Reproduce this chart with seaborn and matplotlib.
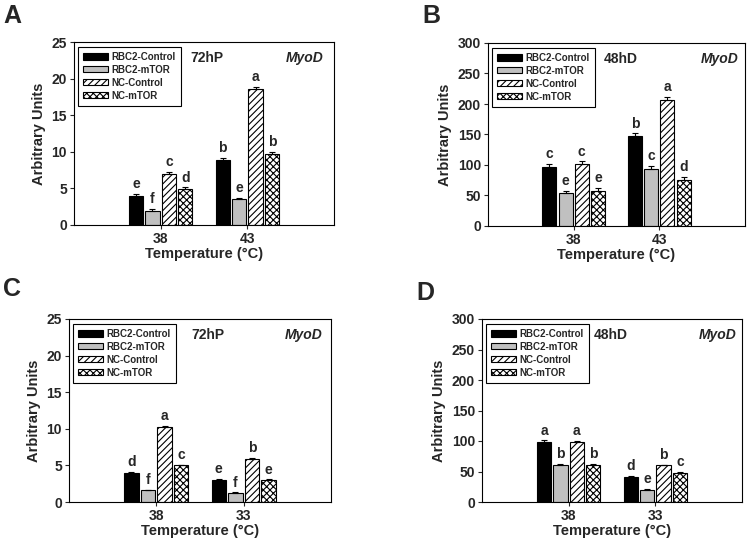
import numpy as np
import pandas as pd
import matplotlib
matplotlib.use("Agg")
import matplotlib.pyplot as plt
from matplotlib.container import BarContainer
import seaborn as sns

sns.set_theme(style="white")
plt.rcParams['font.family'] = ['Liberation Sans', 'DejaVu Sans']
plt.rcParams['hatch.linewidth'] = 0.8

groups = ["RBC2-Control", "RBC2-mTOR", "NC-Control", "NC-mTOR"]
colors = ["#000000", "#c0c0c0", "#ffffff", "#ffffff"]
hatches = ["", "", "/////", "xxxxx"]

# Panel A (72hP, 38 vs 43)
temps_A = ["38", "43"]
vals_A = {"38": [4.0, 1.9, 7.0, 4.9], "43": [8.9, 3.5, 18.6, 9.7]}
errs_A = {"38": [0.2, 0.25, 0.25, 0.25], "43": [0.25, 0.25, 0.3, 0.3]}
lets_A = {"38": ["e", "f", "c", "d"], "43": ["b", "e", "a", "b"]}

# Panel B (48hD, 38 vs 43)
temps_B = ["38", "43"]
vals_B = {"38": [97, 54, 101, 57], "43": [147, 94, 207, 75]}
errs_B = {"38": [5, 4, 5, 5], "43": [5, 4, 5, 5]}
lets_B = {"38": ["c", "e", "c", "e"], "43": ["b", "c", "a", "d"]}

# Panel C (72hP, 38 vs 33)
temps_C = ["38", "33"]
vals_C = {"38": [3.95, 1.6, 10.3, 5.0], "33": [3.0, 1.2, 5.9, 3.0]}
errs_C = {"38": [0.12, 0.1, 0.12, 0.1], "33": [0.12, 0.1, 0.1, 0.1]}
lets_C = {"38": ["d", "f", "a", "c"], "33": ["e", "f", "b", "e"]}

# Panel D (48hD, 38 vs 33)
temps_D = ["38", "33"]
vals_D = {"38": [99, 61, 99, 60], "33": [41, 19, 60, 47]}
errs_D = {"38": [2, 2, 1, 2], "33": [2, 2, 1, 2]}
lets_D = {"38": ["a", "b", "a", "b"], "33": ["d", "e", "b", "c"]}

fig = plt.figure(figsize=(7.5, 5.47), dpi=100)

def panel(rect, temps, vals, errs, lets, ymax, ystep, tag, letter, lpos, tagx, mx):
    ax = fig.add_axes(rect)
    rows = []
    for t in temps:
        for g, v in zip(groups, vals[t]):
            rows.append({"temp": t, "group": g, "value": v})
    df = pd.DataFrame(rows)
    sns.barplot(data=df, x="temp", y="value", hue="group", order=temps,
                hue_order=groups, palette=colors, errorbar=None,
                width=0.76, gap=0.14, edgecolor="black", linewidth=0.8,
                legend=False, ax=ax)
    bars = [c for c in ax.containers if isinstance(c, BarContainer)]
    for gi, cont in enumerate(bars):
        for ti, bar in enumerate(cont.patches):
            bar.set_hatch(hatches[gi])
            bar.set_edgecolor("black")
            t = temps[ti]
            xc = bar.get_x() + bar.get_width() / 2
            h = bar.get_height()
            e = errs[t][gi]
            ax.errorbar([xc], [h], yerr=[[0], [e]], fmt="none", ecolor="black",
                        elinewidth=0.8, capsize=2.5, capthick=0.8)
            ax.annotate(lets[t][gi], (xc, h + e), xytext=(0, 2),
                        textcoords="offset points", ha="center", va="bottom",
                        fontsize=10, fontweight="bold")
    ax.set_xlim(-1, 2)
    ax.set_ylim(0, ymax)
    ax.set_yticks(np.arange(0, ymax + 1e-9, ystep))
    ax.tick_params(axis="both", direction="out", length=3, width=0.8,
                   labelsize=10, pad=2, left=True, bottom=True)
    for lab in ax.get_xticklabels() + ax.get_yticklabels():
        lab.set_fontweight("bold")
    ax.set_xlabel("Temperature (°C)", fontsize=10.5, fontweight="bold", labelpad=1)
    ax.set_ylabel("Arbitrary Units", fontsize=10.5, fontweight="bold", labelpad=4)
    for s in ax.spines.values():
        s.set_visible(True)
        s.set_color("black")
        s.set_linewidth(0.8)
    leg = ax.legend(bars, groups, loc="upper left",
                    bbox_to_anchor=(0.014, 0.975), borderaxespad=0,
                    fancybox=False, edgecolor="black", framealpha=1,
                    prop={"size": 7, "weight": "bold"},
                    handlelength=2.6, handleheight=0.6, labelspacing=0.3,
                    handletextpad=0.35, borderpad=0.55)
    leg.get_frame().set_linewidth(0.8)
    ax.text(tagx, 0.915, tag, transform=ax.transAxes, fontsize=10,
            fontweight="bold", ha="left", va="center")
    ax.text(mx, 0.915, "MyoD", transform=ax.transAxes, fontsize=10,
            fontweight="bold", style="italic", ha="right", va="center")
    fig.text(lpos[0], lpos[1], letter, fontsize=18, fontweight="bold",
             ha="left", va="top")
    return ax

panel([74/750, 1-225/547, 260/750, 183/547], temps_A, vals_A, errs_A, lets_A,
      25, 5, "72hP", "A", (0.004, 0.992), 0.446, 0.958)
panel([488/750, 1-226/547, 257/750, 183/547], temps_B, vals_B, errs_B, lets_B,
      300, 50, "48hD", "B", (0.563, 0.992), 0.45, 0.975)
panel([69/750, 1-502/547, 262/750, 183/547], temps_C, vals_C, errs_C, lets_C,
      25, 5, "72hP", "C", (0.004, 0.494), 0.466, 0.969)
panel([482/750, 1-502/547, 260/750, 183/547], temps_D, vals_D, errs_D, lets_D,
      300, 50, "48hD", "D", (0.555, 0.486), 0.428, 0.98)

fig.savefig("out.png", dpi=100)
